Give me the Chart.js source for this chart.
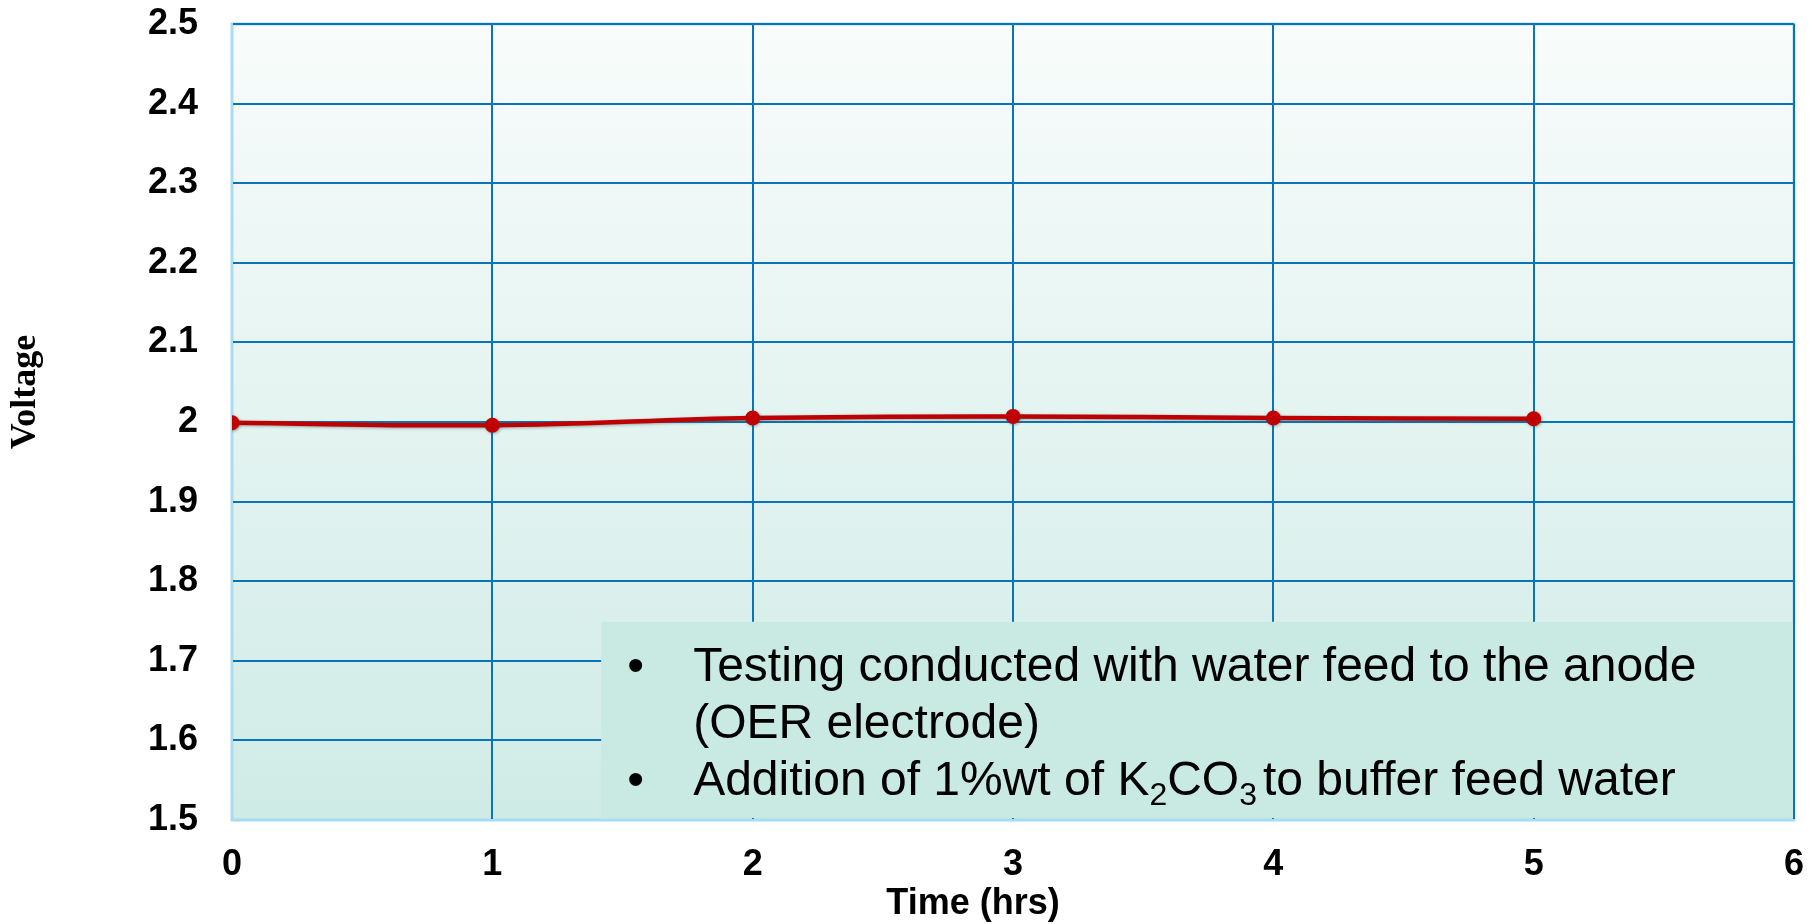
<!DOCTYPE html>
<html>
<head>
<meta charset="utf-8">
<title>Voltage vs Time</title>
<script src="https://cdn.jsdelivr.net/npm/chart.js@4.4.1/dist/chart.umd.min.js"></script>
<style>
  html, body { margin: 0; padding: 0; background: #ffffff; }
  #wrap { position: relative; width: 1820px; height: 924px; }
</style>
</head>
<body>
<div id="wrap"><canvas id="chart" width="1820" height="924"></canvas></div>
<script>
// Cell voltage recorded each hour of the run
const timeHrs = [0, 1, 2, 3, 4, 5];
const voltage = [1.999, 1.996, 2.005, 2.007, 2.005, 2.004];

// Axis tick labels
const xTickLabels = ['0', '1', '2', '3', '4', '5', '6'];
const yTickLabels = ['1.5', '1.6', '1.7', '1.8', '1.9', '2', '2.1', '2.2', '2.3', '2.4', '2.5'];

// Axis titles
const xTitle = 'Time (hrs)';
const yTitle = 'Voltage';

// Notes shown in the lower-right box; subscript runs flagged with sub
const noteLines = [
  [{ t: 'Testing conducted with water feed to the anode' }],
  [{ t: '(OER electrode)' }],
  [{ t: 'Addition of 1%wt of K' }, { t: '2', sub: true }, { t: 'CO' }, { t: '3', sub: true }, { t: 'to buffer feed water', gap: 6 }]
];
const noteBullets = [true, false, true];

const GRID_BLUE = '#0a74b8';
const FRAME_LIGHT = '#a9dcf2';
const LINE_RED = '#c00000';

// Gradient fill behind the plot area plus a light frame
const plotBackground = {
  id: 'plotBackground',
  beforeDraw(chart) {
    const { ctx, chartArea: a } = chart;
    ctx.save();
    const g = ctx.createLinearGradient(0, a.top, 0, a.bottom);
    g.addColorStop(0, '#f8fcfb');
    g.addColorStop(1, '#cfebe6');
    ctx.fillStyle = g;
    ctx.fillRect(a.left, a.top, a.right - a.left, a.bottom - a.top);
    ctx.strokeStyle = FRAME_LIGHT;
    ctx.lineWidth = 3;
    ctx.strokeRect(a.left, a.top, a.right - a.left, a.bottom - a.top);
    ctx.restore();
  }
};

// Boxed bullet notes, anchored in axis units
const noteBox = {
  id: 'noteBox',
  beforeDatasetsDraw(chart) {
    const { ctx, scales: { x, y } } = chart;
    const left = x.getPixelForValue(1.418);
    const right = x.getPixelForValue(6) - 1;
    const top = y.getPixelForValue(1.749);
    const bottom = y.getPixelForValue(1.5) - 2;
    ctx.save();
    ctx.fillStyle = '#c9e9e3';
    ctx.fillRect(left, top, right - left, bottom - top);

    const fontSize = 48;
    const lineGap = 57;
    const textX = left + 92;
    const bulletX = left + 26;
    let baseY = top + 59;
    ctx.fillStyle = '#000000';
    ctx.textBaseline = 'alphabetic';
    ctx.textAlign = 'left';
    noteLines.forEach((runs, i) => {
      if (noteBullets[i]) {
        ctx.font = `${fontSize}px "Liberation Sans", Arial, sans-serif`;
        ctx.fillText('\u2022', bulletX, baseY);
      }
      let cx = textX;
      runs.forEach(r => {
        cx += r.gap || 0;
        if (r.sub) {
          ctx.font = `${Math.round(fontSize * 0.66)}px "Liberation Sans", Arial, sans-serif`;
          ctx.fillText(r.t, cx, baseY + 10);
        } else {
          ctx.font = `${fontSize}px "Liberation Sans", Arial, sans-serif`;
          ctx.fillText(r.t, cx, baseY);
        }
        cx += ctx.measureText(r.t).width;
      });
      baseY += lineGap;
    });
    ctx.restore();
  }
};

// Soft shadow under the data line
const lineShadow = {
  id: 'lineShadow',
  beforeDatasetDraw(chart) {
    const ctx = chart.ctx;
    ctx.save();
    ctx.shadowColor = 'rgba(40, 90, 90, 0.45)';
    ctx.shadowBlur = 3;
    ctx.shadowOffsetX = 1;
    ctx.shadowOffsetY = 1;
  },
  afterDatasetDraw(chart) {
    chart.ctx.restore();
  }
};

// Axis titles
const axisTitles = {
  id: 'axisTitles',
  afterDraw(chart) {
    const { ctx, chartArea: a } = chart;
    ctx.save();
    ctx.fillStyle = '#000000';
    ctx.textAlign = 'center';
    ctx.textBaseline = 'middle';
    ctx.font = 'bold 36px "Liberation Sans", Arial, sans-serif';
    ctx.fillText(xTitle, (a.left + a.right) / 2 - 40, 904);
    ctx.translate(26, (a.top + a.bottom) / 2 - 30);
    ctx.rotate(-Math.PI / 2);
    ctx.font = 'bold 36px "Liberation Serif", "Times New Roman", serif';
    ctx.fillText(yTitle, 0, 0);
    ctx.restore();
  }
};

const tickFont = { family: '"Liberation Sans", Arial, sans-serif', size: 36, weight: 'bold' };

new Chart(document.getElementById('chart'), {
  type: 'line',
  data: {
    datasets: [{
      label: 'Voltage',
      data: timeHrs.map((t, i) => ({ x: t, y: voltage[i] })),
      borderColor: LINE_RED,
      backgroundColor: LINE_RED,
      borderWidth: 4.5,
      tension: 0.4,
      pointRadius: 7.5,
      pointBorderWidth: 0,
      pointBackgroundColor: LINE_RED,
      fill: false
    }]
  },
  options: {
    responsive: false,
    animation: false,
    layout: { padding: { top: 24, right: 26, left: 0, bottom: 0 } },
    plugins: {
      legend: { display: false },
      tooltip: { enabled: false }
    },
    scales: {
      x: {
        type: 'linear',
        min: 0,
        max: 6,
        ticks: {
          stepSize: 1,
          padding: 23,
          color: '#000000',
          font: tickFont,
          callback: (v, i) => xTickLabels[i]
        },
        grid: {
          drawTicks: false,
          lineWidth: 2,
          color: c => (c.tick && c.tick.value === 0 ? FRAME_LIGHT : GRID_BLUE)
        },
        border: { display: true, color: FRAME_LIGHT, width: 2 },
        afterFit: s => { s.height = 104; s.paddingLeft = 0; s.paddingRight = 0; }
      },
      y: {
        min: 1.5,
        max: 2.5,
        ticks: {
          stepSize: 0.1,
          padding: 34,
          color: '#000000',
          font: tickFont,
          callback: (v, i) => yTickLabels[i]
        },
        grid: {
          drawTicks: false,
          lineWidth: 2,
          color: c => (c.tick && Math.abs(c.tick.value - 1.5) < 1e-6 ? FRAME_LIGHT : GRID_BLUE)
        },
        border: { display: true, color: FRAME_LIGHT, width: 2 },
        afterFit: s => { s.width = 232; s.paddingTop = 0; s.paddingBottom = 0; }
      }
    }
  },
  plugins: [plotBackground, noteBox, lineShadow, axisTitles]
});
</script>
</body>
</html>
